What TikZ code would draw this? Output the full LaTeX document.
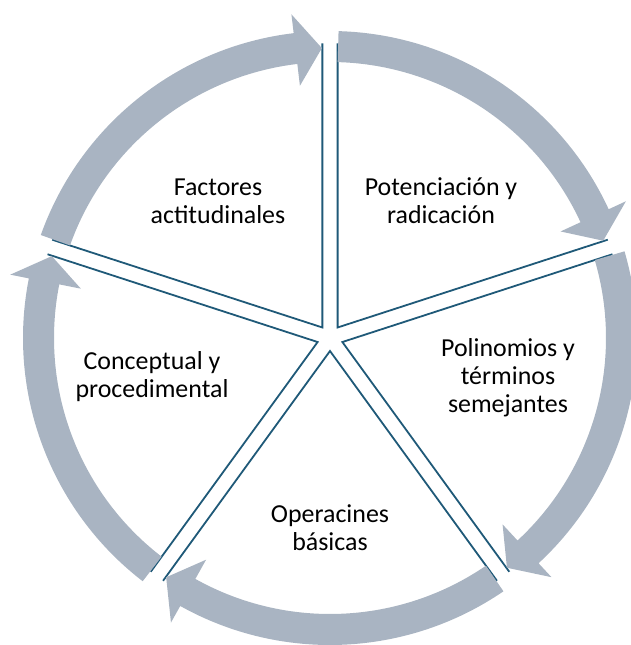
\documentclass[tikz,border=0pt]{standalone}
\usepackage{fontspec}
\setmainfont{Carlito}
\definecolor{ringcol}{RGB}{169,180,194}
\definecolor{segcol}{RGB}{31,89,120}
\tikzset{
  seg/.style={draw=segcol,line width=1.8bp},
  ring/.style={fill=ringcol},
  lbl/.style={align=center,font=\fontsize{26}{28}\selectfont},
}
\begin{document}
\begin{tikzpicture}[>=latex,line join=miter,]
        \useasboundingbox (-330bp,-307bp) rectangle (301bp,338bp);
        \clip (-330bp,-307bp) rectangle (301bp,338bp);
        %%
        \coordinate (v_0) at (-7.64bp,10.52bp);
        \coordinate (v_1) at (7.64bp,10.52bp);
        \coordinate (v_2) at (12.36bp,-4.02bp);
        \coordinate (v_3) at (0bp,-13bp);
        \coordinate (v_4) at (-12.36bp,-4.02bp);
        \draw [seg] (v_0) ++(162:284bp) -- (v_0) -- ++(90:284bp);
        \draw [seg] (v_1) ++(90:284bp) -- (v_1) -- ++(18:284bp);
        \draw [seg] (v_2) ++(18:284bp) -- (v_2) -- ++(-54:284bp);
        \draw [seg] (v_3) ++(-54:284bp) -- (v_3) -- ++(-126:284bp);
        \draw [seg] (v_4) ++(-126:284bp) -- (v_4) -- ++(162:284bp);
        %
        \fill [ring] (160.4:307bp) arc[start angle=160.4,end angle=96.8,radius=307bp] -- (96.8:326bp) -- (91.6:290bp) -- (96.8:254bp) -- (96.8:276bp) arc[start angle=96.8,end angle=160.4,radius=276bp] -- cycle;
        \fill [ring] (88.4:307bp) arc[start angle=88.4,end angle=24.8,radius=307bp] -- (24.8:326bp) -- (19.6:290bp) -- (24.8:254bp) -- (24.8:276bp) arc[start angle=24.8,end angle=88.4,radius=276bp] -- cycle;
        \fill [ring] (16.4:307bp) arc[start angle=16.4,end angle=-47.2,radius=307bp] -- (-47.2:326bp) -- (-52.4:290bp) -- (-47.2:254bp) -- (-47.2:276bp) arc[start angle=-47.2,end angle=16.4,radius=276bp] -- cycle;
        \fill [ring] (-55.6:307bp) arc[start angle=-55.6,end angle=-119.2,radius=307bp] -- (-119.2:326bp) -- (-124.4:290bp) -- (-119.2:254bp) -- (-119.2:276bp) arc[start angle=-119.2,end angle=-55.6,radius=276bp] -- cycle;
        \fill [ring] (-127.6:307bp) arc[start angle=-127.6,end angle=-191.2,radius=307bp] -- (-191.2:326bp) -- (-196.4:290bp) -- (-191.2:254bp) -- (-191.2:276bp) arc[start angle=-191.2,end angle=-127.6,radius=276bp] -- cycle;
        %
        \node (node_0) at (-112bp,137bp) [lbl] {Factores\\actitudinales};
        \node (node_1) at (111bp,137bp) [lbl] {Potenciación y\\radicación};
        \node (node_2) at (178bp,-40bp) [lbl] {Polinomios y\\términos\\semejantes};
        \node (node_3) at (0bp,-190bp) [lbl] {Operacines\\básicas};
        \node (node_4) at (-178bp,-39bp) [lbl] {Conceptual y\\procedimental};
        %
\end{tikzpicture}
\end{document}
